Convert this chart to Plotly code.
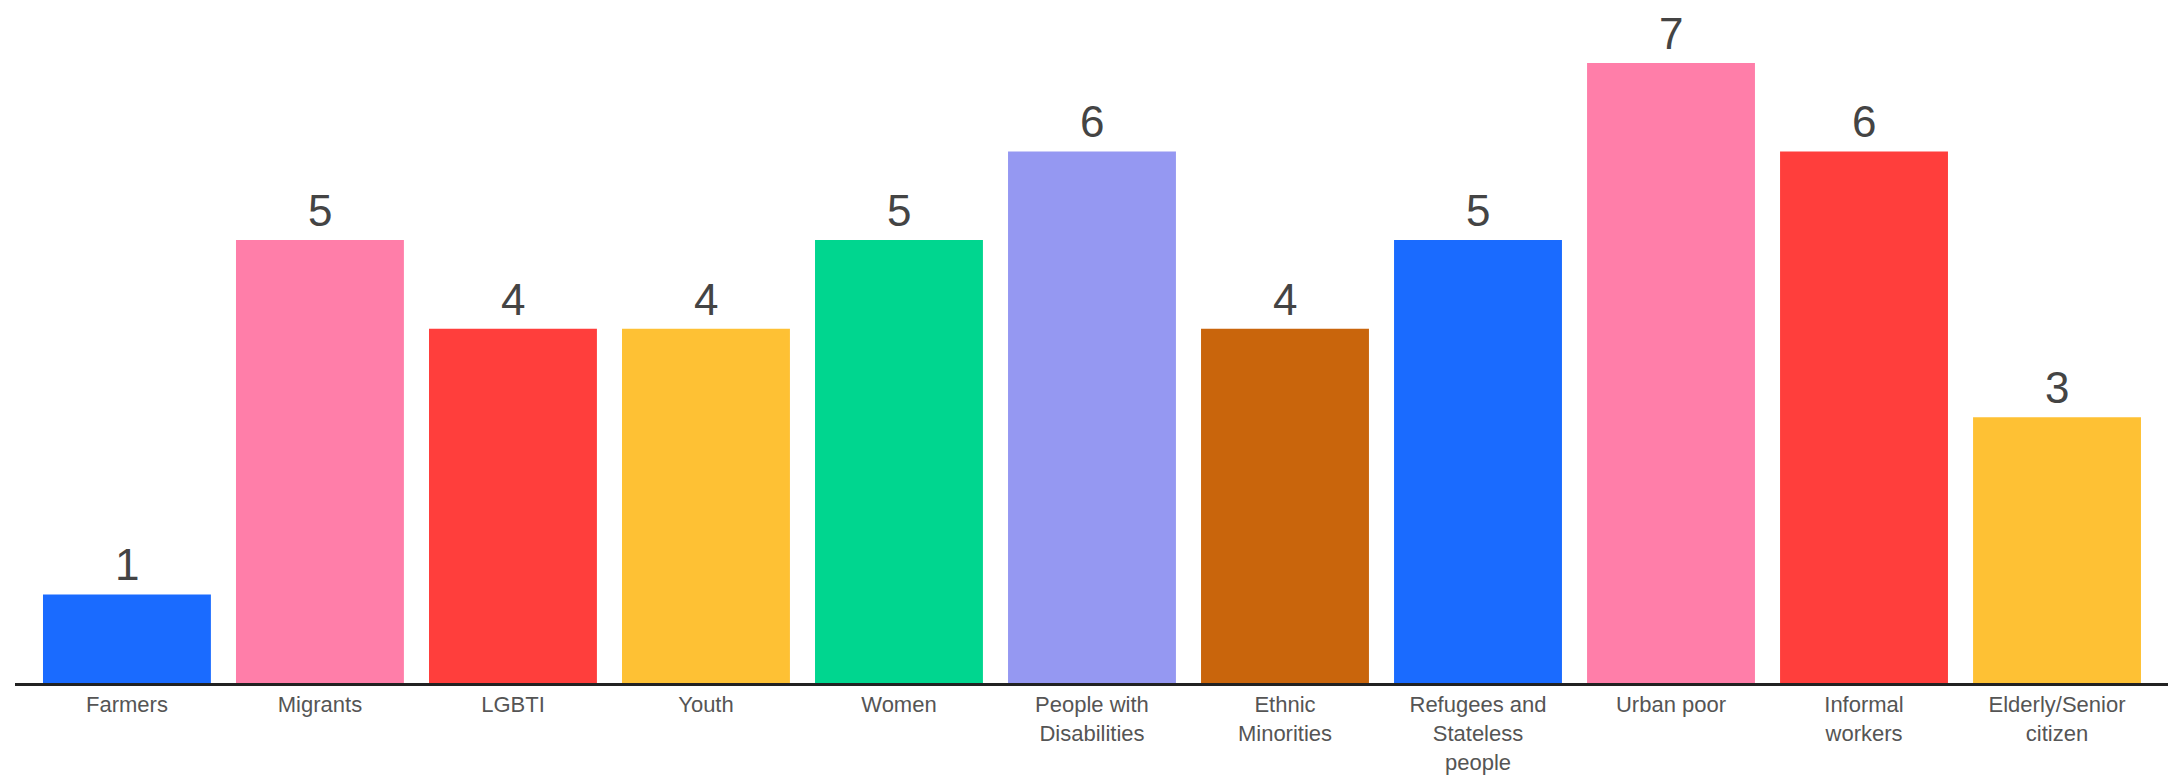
import plotly.graph_objects as go

categories = ["Farmers", "Migrants", "LGBTI", "Youth", "Women",
              "People with<br>Disabilities", "Ethnic<br>Minorities",
              "Refugees and<br>Stateless<br>people", "Urban poor",
              "Informal<br>workers", "Elderly/Senior<br>citizen"]
values = [1, 5, 4, 4, 5, 6, 4, 5, 7, 6, 3]
colors = ["#1A6BFF", "#FF7EA9", "#FF3E3C", "#FEC134", "#00D68F", "#9598F2",
          "#C9650C", "#1A6BFF", "#FF7EA9", "#FF3E3C", "#FEC134"]

fig = go.Figure()
fig.add_trace(go.Bar(
    x=categories, y=values,
    marker=dict(color=colors, line=dict(width=0)),
    hoverinfo="x+y",
))

for c, v in zip(categories, values):
    fig.add_annotation(
        x=c, y=v, text=str(v), showarrow=False,
        yanchor="bottom", yshift=3,
        font=dict(family="Liberation Sans Narrow, Liberation Sans, Arial", size=44, color="#444444"),
    )

fig.update_layout(
    width=2177, height=778,
    margin=dict(l=15, r=9, t=0, b=95, autoexpand=False),
    paper_bgcolor="white", plot_bgcolor="white",
    bargap=0.13,
    showlegend=False,
    font=dict(family="Liberation Sans, Arial", color="#555555"),
)
fig.update_xaxes(
    range=[-0.58, 10.575],
    showline=True, linewidth=3, linecolor="#222222",
    showgrid=False, ticks="", ticklen=0, zeroline=False,
    automargin=False,
    tickfont=dict(size=22, color="#555555", family="Liberation Sans, Arial"),
    ticklabelstandoff=0,
)
fig.update_yaxes(
    range=[0, 7.71], visible=False, showgrid=False, zeroline=False,
    automargin=False,
)

fig.write_html("out.html")
